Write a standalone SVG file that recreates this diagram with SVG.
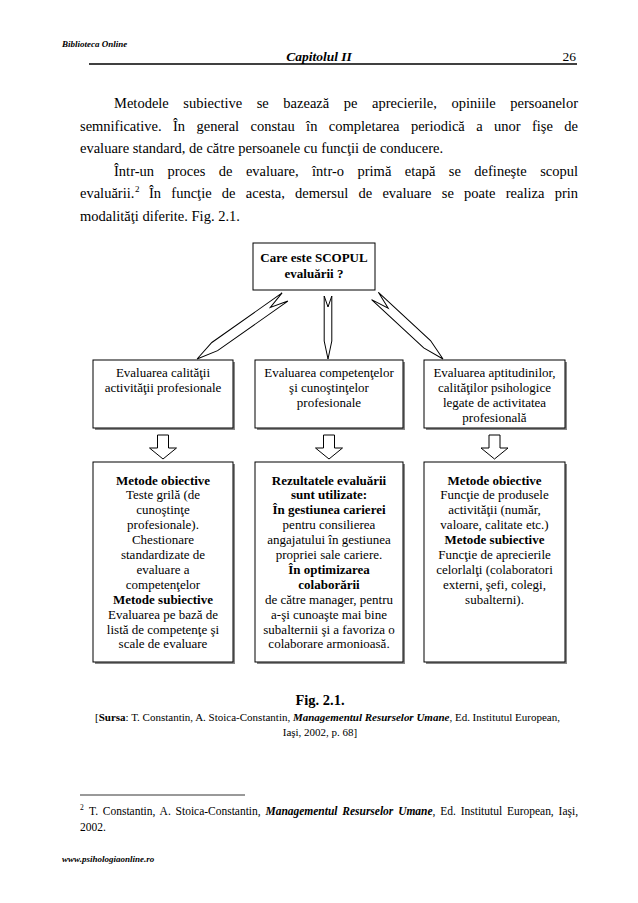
<svg xmlns="http://www.w3.org/2000/svg" width="638" height="903" viewBox="0 0 638 903">
<style>
text{font-family:"Liberation Serif","Times New Roman",serif;fill:#000}
.p{font-size:14.5px}
.bx{font-size:13px;text-anchor:middle}
.b{font-weight:bold}
.i{font-style:italic}
.box{fill:#fff;stroke:#000;stroke-width:1}
.sh{fill:#888}
.arr{fill:#fff;stroke:#000;stroke-width:1;stroke-linejoin:miter}
</style>
<rect width="638" height="903" fill="#fff"/>
<!-- header -->
<text x="62" y="47" class="b i" font-size="9">Biblioteca Online</text>
<text x="319" y="61" class="b i" font-size="13.5" text-anchor="middle">Capitolul II</text>
<text x="576" y="61" font-size="13.5" text-anchor="end">26</text>
<line x1="89" y1="64" x2="577" y2="64" stroke="#000" stroke-width="1.3"/>
<!-- paragraph -->
<text class="p" x="114" y="108" word-spacing="10.9" textLength="464" lengthAdjust="spacing">Metodele subiective se bazează pe aprecierile, opiniile persoanelor</text>
<text class="p" x="80" y="131" word-spacing="7.8" textLength="498" lengthAdjust="spacing">semnificative. În general constau în completarea periodică a unor fişe de</text>
<text class="p" x="80" y="153">evaluare standard, de către persoanele cu funcţii de conducere.</text>
<text class="p" x="114" y="176" word-spacing="9.8" textLength="464" lengthAdjust="spacing">Într-un proces de evaluare, într-o primă etapă se defineşte scopul</text>
<text class="p" x="80" y="198">evaluării.</text>
<text x="135" y="192" font-size="9">2</text>
<text class="p" x="149" y="198" word-spacing="6.6" textLength="429" lengthAdjust="spacing">În funcţie de acesta, demersul de evaluare se poate realiza prin</text>
<text class="p" x="80" y="221">modalităţi diferite. Fig. 2.1.</text>
<!-- connectors -->
<g id="connectors">
  <path class="arr" transform="translate(285,297) rotate(144.8)" d="M0,-5 L86,-5 L107.6,0 L86,5 L0,5 L18,0 Z"/>
  <path class="arr" transform="translate(328,296) rotate(90)" d="M0,-3.8 L45,-3.8 L63,0 L45,3.8 L0,3.8 L11,0 Z"/>
  <path class="arr" transform="translate(375,296) rotate(42.8)" d="M0,-5 L71,-5 L92.7,0 L71,5 L0,5 L18,0 Z"/>
  <path class="arr" d="M157.5,435 h11 v13 h8 l-13.5,11 l-13.5,-11 h8 z"/>
  <path class="arr" d="M323.5,435 h11 v13 h8 l-13.5,11 l-13.5,-11 h8 z"/>
  <path class="arr" d="M489,435 h11 v13 h8 l-13.5,11 l-13.5,-11 h8 z"/>
</g>
<!-- nodes -->
<g id="scop">
  <rect class="box" x="253" y="243" width="122" height="47"/>
  <text class="bx b" x="314" y="262" font-size="12">Care este SCOPUL</text>
  <text class="bx b" x="314" y="278" font-size="12">evaluării ?</text>
</g>
<g id="calitate">
  <rect class="sh" x="95" y="362" width="140" height="68"/>
  <rect class="box" x="93" y="360" width="140" height="68"/>
  <text class="bx" x="163" y="377">Evaluarea calităţii</text>
  <text class="bx" x="163" y="392">activităţii profesionale</text>
</g>
<g id="competente">
  <rect class="sh" x="257" y="362" width="148" height="68"/>
  <rect class="box" x="255" y="360" width="148" height="68"/>
  <text class="bx" x="329" y="377">Evaluarea competenţelor</text>
  <text class="bx" x="329" y="392">şi cunoştinţelor</text>
  <text class="bx" x="329" y="407">profesionale</text>
</g>
<g id="aptitudini">
  <rect class="sh" x="426" y="362" width="141" height="68"/>
  <rect class="box" x="424" y="360" width="141" height="68"/>
  <text class="bx" x="494.5" y="377">Evaluarea aptitudinilor,</text>
  <text class="bx" x="494.5" y="392">calităţilor psihologice</text>
  <text class="bx" x="494.5" y="407">legate de activitatea</text>
  <text class="bx" x="494.5" y="422">profesională</text>
</g>
<g id="metode1">
  <rect class="sh" x="95" y="464" width="140" height="200"/>
  <rect class="box" x="93" y="462" width="140" height="200"/>
  <text class="bx b" x="163" y="484.5">Metode obiective</text>
  <text class="bx" x="163" y="499.4">Teste grilă (de</text>
  <text class="bx" x="163" y="514.3">cunoştinţe</text>
  <text class="bx" x="163" y="529.2">profesionale).</text>
  <text class="bx" x="163" y="544.1">Chestionare</text>
  <text class="bx" x="163" y="559">standardizate de</text>
  <text class="bx" x="163" y="573.9">evaluare a</text>
  <text class="bx" x="163" y="588.8">competenţelor</text>
  <text class="bx b" x="163" y="603.7">Metode subiective</text>
  <text class="bx" x="163" y="618.6">Evaluarea pe bază de</text>
  <text class="bx" x="163" y="633.5">listă de competenţe şi</text>
  <text class="bx" x="163" y="648.4">scale de evaluare</text>
</g>
<g id="rezultate">
  <rect class="sh" x="257" y="464" width="148" height="200"/>
  <rect class="box" x="255" y="462" width="148" height="200"/>
  <text class="bx b" x="329" y="484.5">Rezultatele evaluării</text>
  <text class="bx b" x="329" y="499.4">sunt utilizate:</text>
  <text class="bx b" x="329" y="514.3">În gestiunea carierei</text>
  <text class="bx" x="329" y="529.2">pentru consilierea</text>
  <text class="bx" x="329" y="544.1">angajatului în gestiunea</text>
  <text class="bx" x="329" y="559">propriei sale cariere.</text>
  <text class="bx b" x="329" y="573.9">În optimizarea</text>
  <text class="bx b" x="329" y="588.8">colaborării</text>
  <text class="bx" x="329" y="603.7">de către manager, pentru</text>
  <text class="bx" x="329" y="618.6">a-şi cunoaşte mai bine</text>
  <text class="bx" x="329" y="633.5">subalternii şi a favoriza o</text>
  <text class="bx" x="329" y="648.4">colaborare armonioasă.</text>
</g>
<g id="metode3">
  <rect class="sh" x="426" y="464" width="141" height="200"/>
  <rect class="box" x="424" y="462" width="141" height="200"/>
  <text class="bx b" x="494.5" y="484.5">Metode obiective</text>
  <text class="bx" x="494.5" y="499.4">Funcţie de produsele</text>
  <text class="bx" x="494.5" y="514.3">activităţii (număr,</text>
  <text class="bx" x="494.5" y="529.2">valoare, calitate etc.)</text>
  <text class="bx b" x="494.5" y="544.1">Metode subiective</text>
  <text class="bx" x="494.5" y="559">Funcţie de aprecierile</text>
  <text class="bx" x="494.5" y="573.9">celorlalţi (colaboratori</text>
  <text class="bx" x="494.5" y="588.8">externi, şefi, colegi,</text>
  <text class="bx" x="494.5" y="603.7">subalterni).</text>
</g>
<!-- caption -->
<text x="320" y="705" class="b" font-size="14.5" text-anchor="middle">Fig. 2.1.</text>
<text x="95" y="721" font-size="11" textLength="465" lengthAdjust="spacing">[<tspan class="b">Sursa</tspan>: T. Constantin, A. Stoica-Constantin,  <tspan class="b i">Managementul Resurselor Umane</tspan>, Ed. Institutul European,</text>
<text x="320" y="736" font-size="11" text-anchor="middle">Iaşi, 2002, p. 68]</text>
<!-- footnote -->
<line x1="80" y1="795" x2="245" y2="795" stroke="#000" stroke-width="0.8"/>
<text x="80" y="810" font-size="7.5">2</text>
<text x="89" y="815" font-size="11.5" word-spacing="2" textLength="489" lengthAdjust="spacing">T. Constantin, A. Stoica-Constantin,  <tspan class="b i">Managementul Resurselor Umane</tspan>, Ed. Institutul European, Iaşi,</text>
<text x="80" y="831" font-size="11.5">2002.</text>
<text x="62" y="862" class="b i" font-size="9">www.psihologiaonline.ro</text>
</svg>
